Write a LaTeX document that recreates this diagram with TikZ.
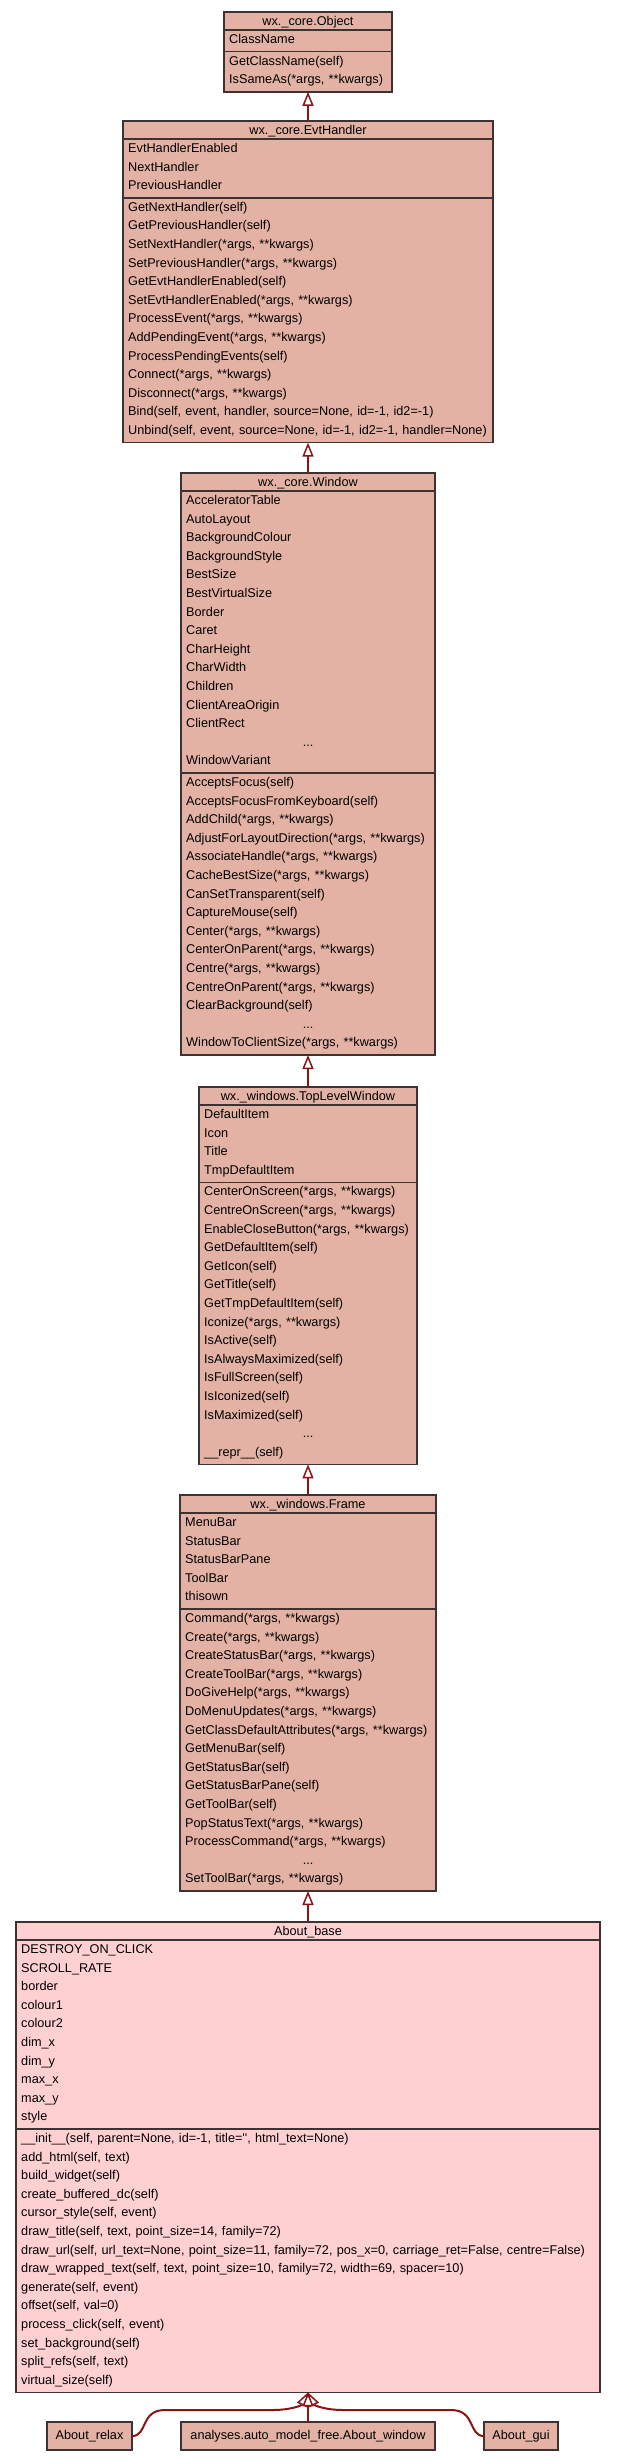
\documentclass[tikz,border=0pt]{standalone}
\usepackage{fontspec}
\setmainfont{Liberation Sans}
\usetikzlibrary{arrows.meta}
\definecolor{boxfill}{RGB}{227,178,164}
\definecolor{basefill}{RGB}{254,208,210}
\definecolor{boxline}{RGB}{60,50,50}
\definecolor{arrowred}{RGB}{139,20,20}
\colorlet{curfill}{boxfill}
\newcommand{\rowfont}{\fontsize{12.7}{15}\selectfont}
\tikzset{
  classbox/.style={draw=boxline, line width=1.6pt, inner sep=0pt, outer sep=0pt},
  sepline/.style={draw=boxline, line width=1.6pt},
  rowtext/.style={font=\rowfont, inner sep=0pt, anchor=base west, align=left},
  titletext/.style={font=\rowfont, inner sep=0pt, anchor=base},
  inh/.style={draw=arrowred, line width=2pt, -{Triangle[width=11pt,length=14pt,fill=white,line width=1.5pt]}},
}
\newcommand{\dotsrow}{\makebox[\hsize][c]{...}}
% #1 name, #2 left, #3 right, #4 top, #5 n attrs, #6 n methods, #7 title, #8 attrs, #9 methods
\newcommand{\umlclass}[9]{%
  \pgfmathsetmacro\ya{#4+18}%
  \pgfmathsetmacro\yb{\ya+#5*18.6+3}%
  \pgfmathsetmacro\yc{\yb+#6*18.6+3}%
  \pgfmathsetmacro\bw{#3-#2}%
  \pgfmathsetmacro\bh{\yc-#4}%
  \pgfmathsetmacro\tw{#3-#2-10}%
  \pgfmathsetmacro\xm{(#2+#3)/2}%
  \node[classbox, fill=curfill, minimum width=\bw pt, minimum height=\bh pt, anchor=north west] (#1) at (#2,#4) {};
  \draw[sepline] (#2,\ya) -- (#3,\ya);
  \draw[sepline] (#2,\yb) -- (#3,\yb);
  \node[titletext] at (\xm,{#4+13}) {#7};
  \foreach \rowtxt [count=\ri] in {#8} {\node[rowtext, text width=\tw pt] at ({#2+5},{\ya+13.5+(\ri-1)*18.6}) {\rowtxt};}
  \foreach \rowtxt [count=\ri] in {#9} {\node[rowtext, text width=\tw pt] at ({#2+5},{\yb+13.5+(\ri-1)*18.6}) {\rowtxt};}
}
\begin{document}
\begin{tikzpicture}[x=1pt,y=-1pt]
\fill[white] (0,0) rectangle (616,2461);
\useasboundingbox (0,0) rectangle (616,2461);

\umlclass{obj}{224}{392}{12}{1}{2}{wx.\_core.Object}{ClassName}{{GetClassName(self)},{IsSameAs(*args, **kwargs)}}

\umlclass{evt}{123}{493}{121}{3}{13}{wx.\_core.EvtHandler}{EvtHandlerEnabled,NextHandler,PreviousHandler}{{GetNextHandler(self)},{GetPreviousHandler(self)},{SetNextHandler(*args, **kwargs)},{SetPreviousHandler(*args, **kwargs)},{GetEvtHandlerEnabled(self)},{SetEvtHandlerEnabled(*args, **kwargs)},{ProcessEvent(*args, **kwargs)},{AddPendingEvent(*args, **kwargs)},{ProcessPendingEvents(self)},{Connect(*args, **kwargs)},{Disconnect(*args, **kwargs)},{Bind(self, event, handler, source=None, id=-1, id2=-1)},{Unbind(self, event, source=None, id=-1, id2=-1, handler=None)}}

\umlclass{win}{181}{435}{473}{15}{15}{wx.\_core.Window}{AcceleratorTable,AutoLayout,BackgroundColour,BackgroundStyle,BestSize,BestVirtualSize,Border,Caret,CharHeight,CharWidth,Children,ClientAreaOrigin,ClientRect,{\dotsrow},WindowVariant}{{AcceptsFocus(self)},{AcceptsFocusFromKeyboard(self)},{AddChild(*args, **kwargs)},{AdjustForLayoutDirection(*args, **kwargs)},{AssociateHandle(*args, **kwargs)},{CacheBestSize(*args, **kwargs)},{CanSetTransparent(self)},{CaptureMouse(self)},{Center(*args, **kwargs)},{CenterOnParent(*args, **kwargs)},{Centre(*args, **kwargs)},{CentreOnParent(*args, **kwargs)},{ClearBackground(self)},{\dotsrow},{WindowToClientSize(*args, **kwargs)}}

\umlclass{tlw}{199}{417}{1087}{4}{15}{wx.\_windows.TopLevelWindow}{DefaultItem,Icon,Title,TmpDefaultItem}{{CenterOnScreen(*args, **kwargs)},{CentreOnScreen(*args, **kwargs)},{EnableCloseButton(*args, **kwargs)},{GetDefaultItem(self)},{GetIcon(self)},{GetTitle(self)},{GetTmpDefaultItem(self)},{Iconize(*args, **kwargs)},{IsActive(self)},{IsAlwaysMaximized(self)},{IsFullScreen(self)},{IsIconized(self)},{IsMaximized(self)},{\dotsrow},{\_\_repr\_\_(self)}}

\umlclass{frm}{180}{436}{1495}{5}{15}{wx.\_windows.Frame}{MenuBar,StatusBar,StatusBarPane,ToolBar,thisown}{{Command(*args, **kwargs)},{Create(*args, **kwargs)},{CreateStatusBar(*args, **kwargs)},{CreateToolBar(*args, **kwargs)},{DoGiveHelp(*args, **kwargs)},{DoMenuUpdates(*args, **kwargs)},{GetClassDefaultAttributes(*args, **kwargs)},{GetMenuBar(self)},{GetStatusBar(self)},{GetStatusBarPane(self)},{GetToolBar(self)},{PopStatusText(*args, **kwargs)},{ProcessCommand(*args, **kwargs)},{\dotsrow},{SetToolBar(*args, **kwargs)}}

\colorlet{curfill}{basefill}
\umlclass{abase}{16}{600}{1922}{10}{14}{About\_base}{DESTROY\_ON\_CLICK,SCROLL\_RATE,border,colour1,colour2,dim\_x,dim\_y,max\_x,max\_y,style}{{\_\_init\_\_(self, parent=None, id=-1, title=\textquotesingle\textquotesingle, html\_text=None)},{add\_html(self, text)},{build\_widget(self)},{create\_buffered\_dc(self)},{cursor\_style(self, event)},{draw\_title(self, text, point\_size=14, family=72)},{draw\_url(self, url\_text=None, point\_size=11, family=72, pos\_x=0, carriage\_ret=False, centre=False)},{draw\_wrapped\_text(self, text, point\_size=10, family=72, width=69, spacer=10)},{generate(self, event)},{offset(self, val=0)},{process\_click(self, event)},{set\_background(self)},{split\_refs(self, text)},{virtual\_size(self)}}

\node[classbox, fill=boxfill, minimum width=85pt, minimum height=28pt, font=\rowfont] (rel) at (89.5,2436) {About\_relax};
\node[classbox, fill=boxfill, minimum width=254pt, minimum height=28pt, font=\rowfont] (awin) at (308,2436) {analyses.auto\_model\_free.About\_window};
\node[classbox, fill=boxfill, minimum width=74pt, minimum height=28pt, font=\rowfont] (gui) at (521,2436) {About\_gui};

\draw[inh] (evt.north) -- (obj.south);
\draw[inh] (win.north) -- (evt.south);
\draw[inh] (tlw.north) -- (win.south);
\draw[inh] (frm.north) -- (tlw.south);
\draw[inh] (abase.north) -- (frm.south);

\draw[inh] (rel.east) .. controls (148,2436) and (140,2410) .. (165,2410) -- (272,2410) .. controls (292,2410) and (302,2405) .. (abase.south);
\draw[inh] (gui.west) .. controls (468,2436) and (476,2410) .. (451,2410) -- (344,2410) .. controls (324,2410) and (314,2405) .. (abase.south);
\draw[inh] (awin.north) -- (abase.south);
\end{tikzpicture}
\end{document}
